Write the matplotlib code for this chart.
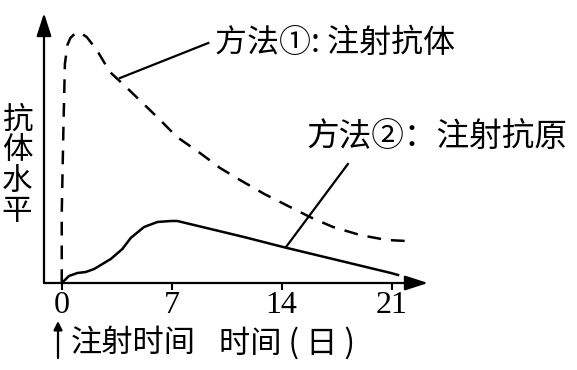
import matplotlib
matplotlib.use("Agg")
import matplotlib.pyplot as plt

plt.rcParams['font.family'] = ['Noto Sans CJK SC', 'DejaVu Sans']

# ---- data (days, antibody level in arbitrary units) ----
days_m1 = [0.0, 0.0, 0.1, 0.2, 0.36, 0.55, 0.74, 1.04, 1.3, 1.59, 2.23, 3.07, 4.16,
           6.07, 7.34, 8.8, 10.08, 11.35, 12.9, 15.8, 17.27, 18.99, 20.69, 21.96]
level_m1 = [0, 70, 150, 219, 238, 245, 248, 251, 249, 246, 233, 211, 195,
            166, 146, 130, 115, 103, 89, 66, 56, 48, 43, 42]

days_m2 = [0.0, 0.46, 0.99, 1.53, 2.06, 3.12, 3.86, 4.39, 5.24, 6.09, 6.94, 7.36,
           8.42, 9.48, 11.6, 14.09, 20.96, 21.41]
level_m2 = [0, 7, 10, 11, 14, 24, 34, 45, 56, 61, 62, 62,
            58, 54, 46, 36, 10, 8]

x_ticks = [0, 7, 14, 21]
label_m1 = "方法①: 注射抗体"
label_m2 = "方法②：注射抗原"
leader1_x, leader1_y = [3.71, 9.33], [205, 240]
leader2_x, leader2_y = [14.28, 18.22], [36, 119]
ylabel_chars = ["抗", "体", "水", "平"]

fig = plt.figure(figsize=(5.77, 3.70), dpi=100)
ax = fig.add_axes([44 / 577, 1 - 283 / 370, 384 / 577, 270 / 370])
ax.set_xlim(-1.13, 23.32)
ax.set_ylim(0, 270)
for s in ax.spines.values():
    s.set_visible(False)

# axes with arrow heads
arrow = dict(arrowstyle="-|>,head_length=1.4,head_width=0.45", lw=1.6,
             color="black", shrinkA=0, shrinkB=0)
ax.annotate("", xy=(23.32, 0), xytext=(-1.13, 0), arrowprops=arrow,
            annotation_clip=False)
ax.annotate("", xy=(-1.13, 270), xytext=(-1.13, 0), arrowprops=arrow,
            annotation_clip=False)

ax.plot(days_m1, level_m1, color="black", lw=1.8, dashes=(5.5, 4), clip_on=False)
ax.plot(days_m2, level_m2, color="black", lw=1.8, clip_on=False)
ax.plot(leader1_x, leader1_y, color="black", lw=1.6)
ax.plot(leader2_x, leader2_y, color="black", lw=1.6)

ax.text(9.76, 240, label_m1, fontsize=23, ha="left", va="center", clip_on=False)
ax.text(15.6, 146, label_m2, fontsize=23.5, ha="left", va="center", clip_on=False)

ax.set_xticks(x_ticks)
ax.set_xticklabels([str(t) for t in x_ticks], fontfamily="Liberation Serif", fontsize=23)
ax.tick_params(axis="x", direction="out", length=5, width=1.5, pad=0.5)
ax.set_yticks([])

# vertical y label, one char per line
for i, ch in enumerate(ylabel_chars):
    fig.text(17 / 577, 1 - (120 + 30.5 * i) / 370, ch, fontsize=22,
             ha="center", va="center")

# injection marker and x label
fig.patches.append(matplotlib.patches.FancyArrowPatch(
    (58 / 577, 1 - 358 / 370), (58 / 577, 1 - 321 / 370),
    transform=fig.transFigure, arrowstyle="-|>,head_length=5,head_width=2.5",
    lw=1.6, color="black", shrinkA=0, shrinkB=0))
fig.text(71 / 577, 1 - 343 / 370, "注射时间", fontsize=22.5, ha="left", va="center")
fig.text(219 / 577, 1 - 343 / 370, "时间 ( 日 )", fontsize=22.5, ha="left", va="center")

fig.savefig("out.png", dpi=100)
